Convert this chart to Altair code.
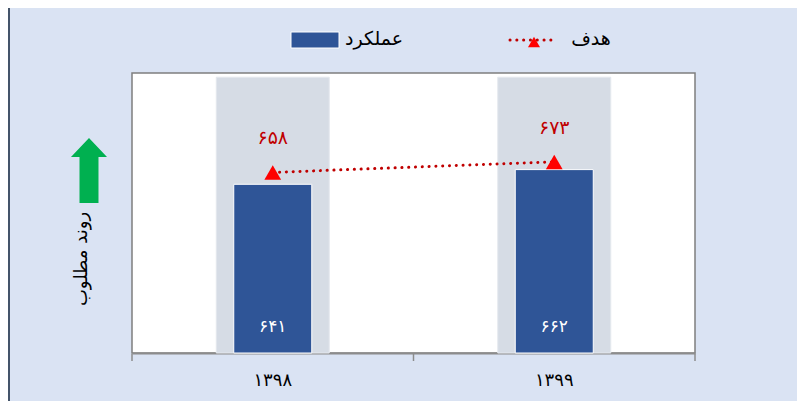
import altair as alt
import pandas as pd

FONT = "DejaVu Sans"

years = ["۱۳۹۸", "۱۳۹۹"]
performance = [641, 662]
target = [658, 673]
band_top = [794, 794]

fa_digits = str.maketrans("0123456789", "۰۱۲۳۴۵۶۷۸۹")
perf_labels = [str(v).translate(fa_digits) for v in performance]
target_labels = [str(v).translate(fa_digits) for v in target]

legend_names = ["عملکرد", "هدف"]
side_note = "روند مطلوب"

BAR = "#2F5597"
BAND = "#D6DCE5"
RED = "#FF0000"
DARKRED = "#C00000"
GREEN = "#00B050"
BG = "#DAE3F3"
AXIS = "#8C8C8C"

df = pd.DataFrame({
    "year": years,
    "performance": performance,
    "target": target,
    "band_top": band_top,
    "base": [400, 400],
    "perf_label": perf_labels,
    "target_label": target_labels,
})

x = alt.X(
    "year:N", sort=years,
    scale=alt.Scale(paddingInner=0, paddingOuter=0),
    axis=alt.Axis(title=None, labelAngle=0, ticks=False,
                  domainColor=AXIS, domainWidth=2,
                  labelFontSize=18, labelColor="black", labelFont=FONT,
                  labelPadding=18),
)
yscale = alt.Scale(domain=[400, 800], nice=False, zero=False)

base = alt.Chart(df)

bands = base.mark_bar(width=113, color=BAND, stroke="#E4E8EE", strokeWidth=1).encode(
    x=x, y=alt.Y("band_top:Q", scale=yscale, axis=None), y2="base:Q"
)
bars = base.mark_bar(width=78, color=BAR, stroke="white", strokeWidth=1).encode(
    x=x,
    y=alt.Y("performance:Q", scale=yscale, axis=None),
    y2="base:Q",
)
bar_text = base.mark_text(dy=-26, color="white", fontSize=17, font=FONT).encode(
    x=x, y=alt.Y("base:Q", scale=yscale, axis=None), text="perf_label:N"
)
line = base.mark_line(strokeDash=[0.1, 6.7], strokeCap="round", strokeWidth=3,
                      color=DARKRED).encode(
    x=x, y=alt.Y("target:Q", scale=yscale, axis=None)
)
tri = base.mark_point(shape="triangle-up", filled=True, size=280, color=RED,
                      opacity=1).encode(
    x=x, y=alt.Y("target:Q", scale=yscale, axis=None)
)
tri_text = base.mark_text(dy=-34, color=DARKRED, fontSize=19, font=FONT).encode(
    x=x, y=alt.Y("target:Q", scale=yscale, axis=None), text="target_label:N"
)
# tick marks at category boundaries
ticks = base.mark_rule(color=AXIS, strokeWidth=1.5, xOffset=-140.75).encode(
    x=x, y=alt.value(281), y2=alt.value(288)
)

one = alt.Chart(alt.Data(values=[{"k": 1}]))

end_tick = one.mark_rule(color=AXIS, strokeWidth=1.5).encode(
    x=alt.value(563), y=alt.value(281), y2=alt.value(288)
)
leg_rect = one.mark_rect(color=BAR, stroke="white", strokeWidth=1).encode(
    x=alt.value(159), x2=alt.value(207), y=alt.value(-41), y2=alt.value(-25)
)
leg_text1 = one.mark_text(fontSize=19, font=FONT, color="black", align="center",
                          baseline="middle").encode(
    x=alt.value(242), y=alt.value(-34), text=alt.value(legend_names[0])
)
leg_line = one.mark_rule(strokeDash=[0.1, 6.7], strokeCap="round", strokeWidth=3,
                         color=DARKRED).encode(
    x=alt.value(378), x2=alt.value(425), y=alt.value(-33)
)
leg_tri = one.mark_point(shape="triangle-up", filled=True, size=144, color=RED,
                         opacity=1).encode(
    x=alt.value(402), y=alt.value(-31)
)
leg_text2 = one.mark_text(fontSize=19, font=FONT, color="black", align="center",
                          baseline="middle").encode(
    x=alt.value(459), y=alt.value(-34), text=alt.value(legend_names[1])
)
arrow_path = ("M0,-1 L0.554,-0.415 L0.292,-0.415 L0.292,1 L-0.292,1 "
              "L-0.292,-0.415 L-0.554,-0.415 Z")
arrow = one.mark_point(shape=arrow_path, filled=True, size=4225, color=GREEN,
                       opacity=1).encode(
    x=alt.value(-43), y=alt.value(97.5)
)
note = one.mark_text(angle=270, fontSize=18, font=FONT, color="black",
                     align="center", baseline="middle").encode(
    x=alt.value(-50), y=alt.value(186), text=alt.value(side_note)
)
frame = one.mark_rule(color="#44546A", strokeWidth=2).encode(
    x=alt.value(-123), y=alt.value(-65), y2=alt.value(328)
)

chart = alt.layer(
    bands, bars, bar_text, line, tri, tri_text, ticks, end_tick,
    leg_rect, leg_text1, leg_line, leg_tri, leg_text2, arrow, note, frame,
).properties(
    width=563, height=280,
    autosize=alt.AutoSizeParams(type="none"),
    padding={"left": 124, "top": 65, "right": 102, "bottom": 48},
    background=BG,
).configure_view(
    fill="white", stroke="#7F7F7F", strokeWidth=1.5
)

chart.save("out.html", embed_options={"renderer": "svg", "actions": False})
